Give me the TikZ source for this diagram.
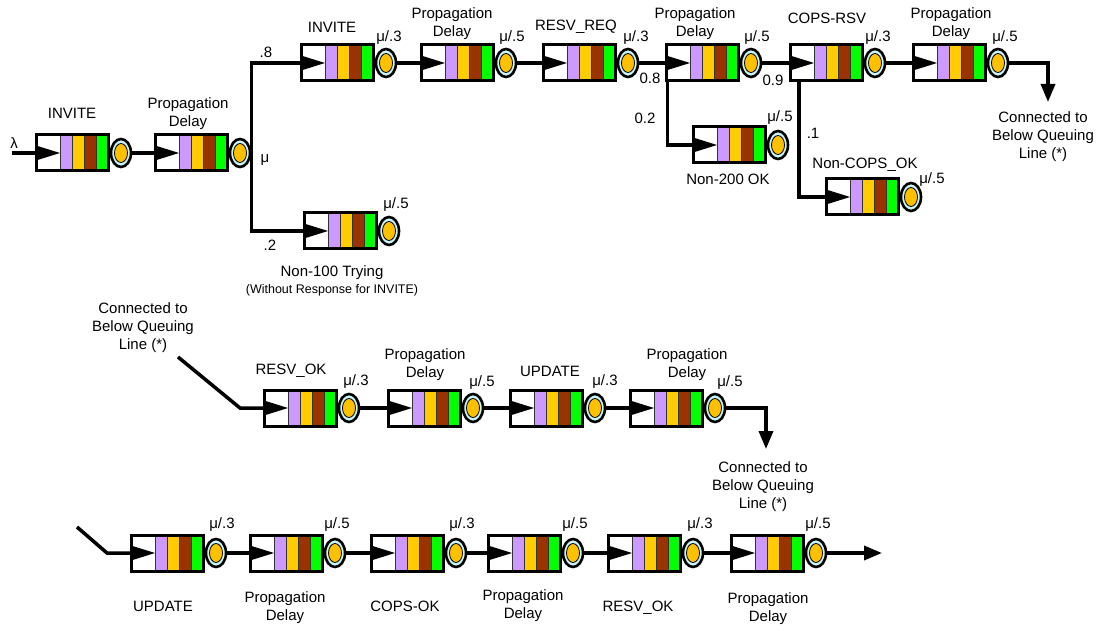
\documentclass[tikz,border=0pt]{standalone}
\usepackage{fontspec}
\setmainfont{Liberation Sans}
\usetikzlibrary{shapes.geometric,arrows.meta}
\definecolor{cpur}{HTML}{CC99FF}
\definecolor{cyel}{HTML}{FFCC00}
\definecolor{cbrn}{HTML}{993300}
\definecolor{cgrn}{HTML}{00FF00}
\definecolor{ccyan}{HTML}{C8F5FA}
\definecolor{syel}{HTML}{FFC000}
\tikzset{
 qbox/.style={draw, line width=3pt, minimum width=72pt, minimum height=36pt, inner sep=0, outer sep=0, fill=white},
 srv/.style={ellipse, draw, line width=2.6pt, fill=ccyan, minimum width=20pt, minimum height=28pt, inner sep=0, outer sep=1.3pt},
 conn/.style={line width=3.5pt},
 arr/.style={conn, -{Triangle[length=18pt,width=14pt]}},
 lbl/.style={font=\fontsize{15}{18}\selectfont, align=center, inner sep=0},
 sml/.style={font=\fontsize{12.5}{15}\selectfont, inner sep=0},
 stripe/.style={draw=black!80, line width=0.6pt},
}
\newcommand\qnode[3]{%
 \node[qbox] (#1) at ({#2+37},{#3}) {};
 \draw[stripe, fill=cpur] ({#2+25},{#3-18}) rectangle ({#2+37},{#3+18});
 \draw[stripe, fill=cyel] ({#2+37},{#3-18}) rectangle ({#2+49},{#3+18});
 \draw[stripe, fill=cbrn] ({#2+49},{#3-18}) rectangle ({#2+61},{#3+18});
 \draw[stripe, fill=cgrn] ({#2+61},{#3-18}) rectangle ({#2+73},{#3+18});
 \draw[line width=3pt] (#1.south west) rectangle (#1.north east);
 \fill ({#2+1},{#3-7.5}) -- ({#2+25},{#3}) -- ({#2+1},{#3+7.5}) -- cycle;
 \node[srv] (#1s) at ({#2+86},{#3}) {};
 \filldraw[fill=syel, line width=0.8pt] ({#2+86},{#3}) ellipse (6.5pt and 9.5pt);
}
\begin{document}
\begin{tikzpicture}[x=1pt,y=-1pt]
\useasboundingbox[fill=white] (0,0) rectangle (1101,631);

% ---------- row 1 ----------
\qnode{Q1}{35}{153}
\qnode{Q2}{154}{153}
\qnode{Q3}{300}{63}
\qnode{Q4}{420}{63}
\qnode{Q5}{542}{63}
\qnode{Q6}{665}{63}
\qnode{Q7}{789}{63}
\qnode{Q8}{912}{63}
\qnode{T}{303}{231}
\qnode{N2}{692}{145}
\qnode{NC}{825}{197}

\coordinate (lam) at (12,153);
\coordinate (br) at (Q2s.east);
\coordinate (c1) at (1048,102);
\draw[conn] (lam) -- (Q1.west);
\draw[conn] (Q1s.east) -- (Q2.west);
\draw[conn] (Q3.west) -| (br) |- (T.west);
\draw[conn] (Q3s.east) -- (Q4.west);
\draw[conn] (Q4s.east) -- (Q5.west);
\draw[conn] (Q5s.east) -- (Q6.west);
\draw[conn] (Q6s.east) -- (Q7.west);
\draw[conn] (Q7s.east) -- (Q8.west);
\draw[conn] ([xshift=1.5pt]Q6.south west) |- (N2.west);
\draw[conn] ([xshift=9pt]Q7.south west) |- (NC.west);
\draw[arr] (Q8s.east) -| (c1);

\node[lbl] (l1) at (14,143) {λ};
\node[lbl] (l2) at (72,113) {INVITE};
\node[lbl] (l3) at (188,114) {Propagation\\Delay};
\node[lbl] (l4) at (265,160) {μ};
\node[lbl] (l5) at (266,52) {.8};
\node[lbl] (l6) at (270,245) {.2};
\node[lbl] (l7) at (332,27) {INVITE};
\node[lbl] (l8) at (389,38) {μ/.3};
\node[lbl] (l9) at (452,24) {Propagation\\Delay};
\node[lbl] (l10) at (512,38) {μ/.5};
\node[lbl] (l11) at (576,27) {RESV\_REQ};
\node[lbl] (l12) at (636,38) {μ/.3};
\node[lbl] (l13) at (695,24) {Propagation\\Delay};
\node[lbl] (l14) at (757,38) {μ/.5};
\node[lbl] (l15) at (650,78) {0.8};
\node[lbl] (l16) at (645,118) {0.2};
\node[lbl] (l17) at (827,18) {COPS-RSV};
\node[lbl] (l18) at (773,80) {0.9};
\node[lbl] (l19) at (878,38) {μ/.3};
\node[lbl] (l20) at (951,24) {Propagation\\Delay};
\node[lbl] (l21) at (1005,38) {μ/.5};
\node[lbl] (l22) at (1043,137) {Connected to\\Below Queuing\\Line (*)};
\node[lbl] (l23) at (780,118) {μ/.5};
\node[lbl] (l24) at (728,179) {Non-200 OK};
\node[lbl] (l25) at (813,133) {.1};
\node[lbl] (l26) at (865,165) {Non-COPS\_OK};
\node[lbl] (l27) at (932,180) {μ/.5};
\node[lbl] (l28) at (396,205) {μ/.5};
\node[lbl] (l29) at (332,273) {Non-100 Trying};
\node[sml] (l30) at (332,290) {(Without Response for INVITE)};

% ---------- row 2 ----------
\qnode{R1}{263}{408}
\qnode{R2}{387}{408}
\qnode{R3}{509}{408}
\qnode{R4}{629}{408}
\coordinate (d1) at (178,357);
\coordinate (d2) at (240,408);
\coordinate (c2) at (766,449);
\draw[conn] (d1) -- (d2) -- (R1.west);
\draw[conn] (R1s.east) -- (R2.west);
\draw[conn] (R2s.east) -- (R3.west);
\draw[conn] (R3s.east) -- (R4.west);
\draw[arr] (R4s.east) -| (c2);

\node[lbl] (m1) at (143,328) {Connected to\\Below Queuing\\Line (*)};
\node[lbl] (m2) at (291,371) {RESV\_OK};
\node[lbl] (m3) at (356,382) {μ/.3};
\node[lbl] (m4) at (425,365) {Propagation\\Delay};
\node[lbl] (m5) at (482,383) {μ/.5};
\node[lbl] (m6) at (550,371) {UPDATE};
\node[lbl] (m7) at (605,382) {μ/.3};
\node[lbl] (m8) at (687,365) {Propagation\\Delay};
\node[lbl] (m9) at (730,383) {μ/.5};
\node[lbl] (m10) at (763,487) {Connected to\\Below Queuing\\Line (*)};

% ---------- row 3 ----------
\qnode{S1}{130}{553}
\qnode{S2}{249}{553}
\qnode{S3}{370}{553}
\qnode{S4}{487}{553}
\qnode{S5}{607}{553}
\qnode{S6}{730}{553}
\coordinate (e1) at (77,527);
\coordinate (e2) at (107,553);
\coordinate (e3) at (882,553);
\draw[conn] (e1) -- (e2) -- (S1.west);
\draw[conn] (S1s.east) -- (S2.west);
\draw[conn] (S2s.east) -- (S3.west);
\draw[conn] (S3s.east) -- (S4.west);
\draw[conn] (S4s.east) -- (S5.west);
\draw[conn] (S5s.east) -- (S6.west);
\draw[arr] (S6s.east) -- (e3);

\node[lbl] (n1) at (163,606) {UPDATE};
\node[lbl] (n2) at (222,525) {μ/.3};
\node[lbl] (n3) at (285,608) {Propagation\\Delay};
\node[lbl] (n4) at (337,525) {μ/.5};
\node[lbl] (n5) at (405,606) {COPS-OK};
\node[lbl] (n6) at (462,525) {μ/.3};
\node[lbl] (n7) at (523,606) {Propagation\\Delay};
\node[lbl] (n8) at (575,525) {μ/.5};
\node[lbl] (n9) at (638,608) {RESV\_OK};
\node[lbl] (n10) at (700,525) {μ/.3};
\node[lbl] (n11) at (768,609) {Propagation\\Delay};
\node[lbl] (n12) at (818,525) {μ/.5};
\end{tikzpicture}
\end{document}
